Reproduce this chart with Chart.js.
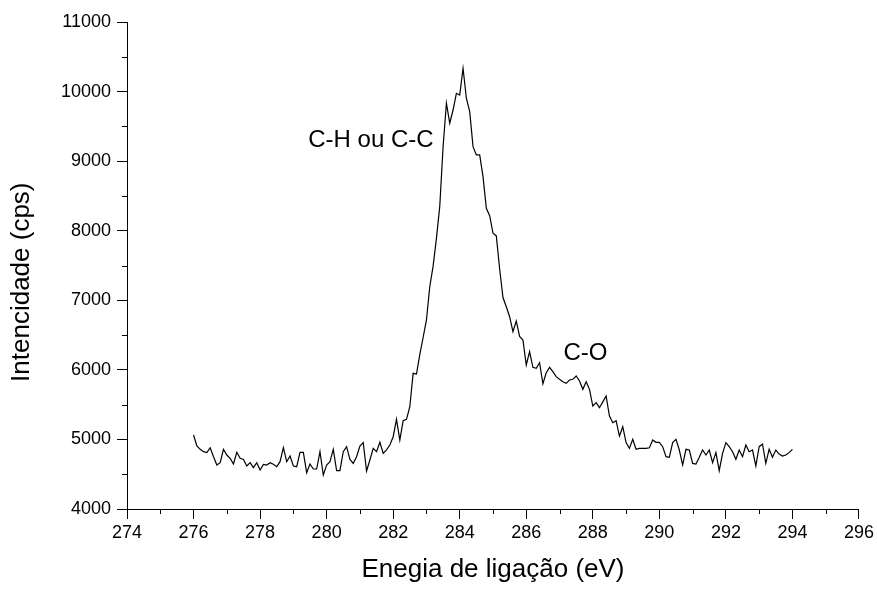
<!DOCTYPE html>
<html>
<head>
<meta charset="utf-8">
<script src="https://cdn.jsdelivr.net/npm/chart.js@4.4.1/dist/chart.umd.min.js"></script>
<style>
html,body{margin:0;padding:0;background:#fff;}
#wrap{width:877px;height:591px;position:relative;}
</style>
</head>
<body>
<div id="wrap"><canvas id="c" width="877" height="591"></canvas></div>
<script>
// Binding energy (eV)
const energies = [
276.0,276.1,276.2,276.3,276.4,276.5,276.6,276.7,276.8,276.9,
277.0,277.1,277.2,277.3,277.4,277.5,277.6,277.7,277.8,277.9,
278.0,278.1,278.2,278.3,278.4,278.5,278.6,278.7,278.8,278.9,
279.0,279.1,279.2,279.3,279.4,279.5,279.6,279.7,279.8,279.9,
280.0,280.1,280.2,280.3,280.4,280.5,280.6,280.7,280.8,280.9,
281.0,281.1,281.2,281.3,281.4,281.5,281.6,281.7,281.8,281.9,
282.0,282.1,282.2,282.3,282.4,282.5,282.6,282.7,282.8,282.9,
283.0,283.1,283.2,283.3,283.4,283.5,283.6,283.7,283.8,283.9,
284.0,284.1,284.2,284.3,284.4,284.5,284.6,284.7,284.8,284.9,
285.0,285.1,285.2,285.3,285.4,285.5,285.6,285.7,285.8,285.9,
286.0,286.1,286.2,286.3,286.4,286.5,286.6,286.7,286.8,286.9,
287.0,287.1,287.2,287.3,287.4,287.5,287.6,287.7,287.8,287.9,
288.0,288.1,288.2,288.3,288.4,288.5,288.6,288.7,288.8,288.9,
289.0,289.1,289.2,289.3,289.4,289.5,289.6,289.7,289.8,289.9,
290.0,290.1,290.2,290.3,290.4,290.5,290.6,290.7,290.8,290.9,
291.0,291.1,291.2,291.3,291.4,291.5,291.6,291.7,291.8,291.9,
292.0,292.1,292.2,292.3,292.4,292.5,292.6,292.7,292.8,292.9,
293.0,293.1,293.2,293.3,293.4,293.5,293.6,293.7,293.8,293.9,
294.0
];
// Intensity (cps)
const intensities = [
5064,4906,4858,4824,4810,4881,4752,4632,4666,4858,
4776,4728,4647,4815,4728,4713,4618,4666,4594,4666,
4560,4642,4632,4666,4642,4608,4680,4881,4680,4762,
4618,4608,4815,4815,4522,4647,4575,4575,4824,4489,
4632,4680,4858,4551,4551,4824,4896,4713,4656,4752,
4906,4954,4546,4704,4872,4824,4960,4800,4850,4920,
5039,5289,4992,5269,5289,5470,5950,5940,6220,6465,
6717,7195,7490,7890,8350,9208,9832,9545,9735,9975,
9951,10335,9904,9711,9208,9089,9089,8778,8322,8215,
7963,7925,7450,7040,6908,6764,6548,6700,6480,6429,
6070,6261,6036,6022,6103,5800,5959,6036,5974,5902,
5864,5830,5806,5854,5864,5912,5840,5720,5830,5720,
5480,5528,5456,5540,5624,5337,5240,5269,5049,5183,
4954,4872,5001,4858,4872,4872,4872,4880,4992,4958,
4958,4896,4752,4743,4954,5001,4848,4632,4858,4848,
4656,4647,4743,4848,4776,4848,4666,4810,4551,4800,
4954,4896,4824,4714,4848,4752,4920,4824,4848,4618,
4896,4934,4656,4858,4743,4848,4790,4762,4776,4810,
4858
];
const xMin = 274, xMax = 296, xStep = 2;
const yMin = 4000, yMax = 11000, yStep = 1000;
const minorXTicks = [275,277,279,281,283,285,287,289,291,293,295];
const minorYTicks = [4500,5500,6500,7500,8500,9500,10500];
const xTitle = 'Enegia de ligação (eV)';
const yTitle = 'Intencidade (cps)';
const yTitleCenterValue = 7260;
const annotationTexts = ['C-H ou C-C', 'C-O'];
const annotationX = [281.33, 287.78];
const annotationY = [9208, 6142];

const FONT = "'Liberation Sans', Arial, Helvetica, sans-serif";

const points = energies.map((e, i) => ({x: e, y: intensities[i]}));

const extrasPlugin = {
  id: 'extras',
  afterDraw(chart) {
    const ctx = chart.ctx;
    const xs = chart.scales.x, ys = chart.scales.y;
    ctx.save();
    ctx.strokeStyle = '#000';
    ctx.lineWidth = 1;
    const bottom = chart.chartArea.bottom, left = chart.chartArea.left;
    minorXTicks.forEach(v => {
      const px = Math.round(xs.getPixelForValue(v)) + 0.5;
      ctx.beginPath(); ctx.moveTo(px, bottom); ctx.lineTo(px, bottom + 5); ctx.stroke();
    });
    minorYTicks.forEach(v => {
      const py = Math.round(ys.getPixelForValue(v)) + 0.5;
      ctx.beginPath(); ctx.moveTo(left, py); ctx.lineTo(left - 5, py); ctx.stroke();
    });
    ctx.fillStyle = '#000';
    ctx.font = '24px ' + FONT;
    ctx.textAlign = 'center';
    ctx.textBaseline = 'alphabetic';
    annotationTexts.forEach((t, i) => {
      ctx.fillText(t, xs.getPixelForValue(annotationX[i]), ys.getPixelForValue(annotationY[i]));
    });
    // y axis title
    ctx.font = '26px ' + FONT;
    ctx.textBaseline = 'middle';
    ctx.translate(22, ys.getPixelForValue(yTitleCenterValue));
    ctx.rotate(-Math.PI / 2);
    ctx.fillText(yTitle, 0, 0);
    ctx.restore();
  }
};

new Chart(document.getElementById('c'), {
  type: 'line',
  data: {
    datasets: [{
      data: points,
      borderColor: '#000',
      borderWidth: 1.2,
      pointRadius: 0,
      tension: 0,
      fill: false
    }]
  },
  options: {
    responsive: false,
    devicePixelRatio: 1,
    animation: false,
    events: [],
    layout: {padding: {top: 22, right: 18, left: 0, bottom: 0}},
    plugins: {legend: {display: false}, tooltip: {enabled: false}},
    scales: {
      x: {
        type: 'linear',
        min: xMin, max: xMax,
        afterFit(s) { s.height = 82; },
        ticks: {stepSize: xStep, color: '#000', font: {family: FONT, size: 18}, padding: 3, maxRotation: 0,
                callback: v => String(v)},
        grid: {drawOnChartArea: false, drawTicks: true, tickLength: 10, tickColor: '#000', tickWidth: 1},
        border: {display: true, color: '#000', width: 1},
        title: {display: true, text: xTitle, color: '#000', font: {family: FONT, size: 26}, padding: {top: 0, bottom: 6}}
      },
      y: {
        type: 'linear',
        min: yMin, max: yMax,
        afterFit(s) { s.width = 127; },
        ticks: {stepSize: yStep, color: '#000', font: {family: FONT, size: 18}, padding: 6,
                callback: v => String(v)},
        grid: {drawOnChartArea: false, drawTicks: true, tickLength: 10, tickColor: '#000', tickWidth: 1},
        border: {display: true, color: '#000', width: 1},
        title: {display: false}
      }
    }
  },
  plugins: [extrasPlugin]
});
</script>
</body>
</html>
